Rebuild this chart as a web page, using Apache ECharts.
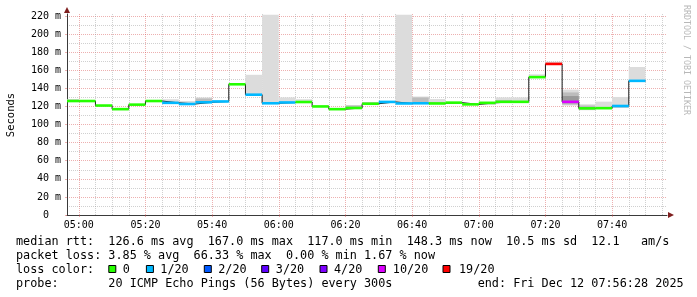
<!DOCTYPE html>
<html><head><meta charset="utf-8">
<script src="https://cdn.jsdelivr.net/npm/echarts@6/dist/echarts.min.js"></script>
<style>html,body{margin:0;padding:0;background:#fff}#c{width:697px;height:297px}</style>
</head><body><div id="c"></div>
<script>
// ---------- data ----------
const rangeStart = '04:56:28';
const rangeEnd = '07:56:28';
const stepEnd = ['05:00','05:05','05:10','05:15','05:20','05:25','05:30','05:35','05:40','05:45','05:50','05:55',
                 '06:00','06:05','06:10','06:15','06:20','06:25','06:30','06:35','06:40','06:45','06:50','06:55',
                 '07:00','07:05','07:10','07:15','07:20','07:25','07:30','07:35','07:40','07:45','07:50'];
const medianMs = [126,126,121,117,122,126,124,122.7,124.6,125.5,144.5,133,
                  123.5,124.4,124.9,120,117,118.3,123,125,123.3,123.5,123.3,124.2,
                  122.3,124,125.1,125.1,152.4,167,125.1,117.9,118.1,120.5,148.3];
const lostPings = [0,0,0,0,0,0,1,1,1,1,0,1,
                   1,1,0,0,0,0,0,1,1,1,0,0,
                   0,0,0,0,0,19,13,0,0,1,1];
const smokeLow  = [125,125.3,120.4,116.5,121.5,125.4,123.5,122.2,124,125,144,132.5,
                   123,124,124.5,119.5,116.5,117.8,122.5,124.5,123,123,123,123.8,
                   121.8,122,124.8,124.8,152,166.8,120.9,115.8,117.6,118.5,147];
const smokeHigh = [128,126.8,121.6,117.6,122.6,126.6,128,126,130,126.5,145.5,155,
                   221.5,130,128,120.6,117.6,121.6,124.8,126,221.5,131,128.2,125,
                   123,124.6,130,130,155.5,169.5,138.6,122.4,125.3,130.5,163.6];
const innerLow  = [125.5,null,null,null,null,null,null,null,124.6,null,null,null,
                   null,null,null,null,null,118.3,123,null,null,123.5,null,null,
                   null,122.3,125,null,null,null,122,116.5,null,118.8,147.2];
const innerHigh = [127.5,null,null,null,null,null,null,null,128.8,null,null,null,
                   null,null,null,null,null,121,124.5,null,null,130,null,null,
                   null,124,127,null,null,null,135.5,121,null,120.5,148.3];
const coreLow   = [null,null,null,null,null,null,null,null,null,null,null,null,
                   null,null,null,null,null,null,null,null,null,null,null,null,
                   null,null,null,null,null,null,123.5,null,null,null,null];
const coreHigh  = [null,null,null,null,null,null,null,null,null,null,null,null,
                   null,null,null,null,null,null,null,null,null,null,null,null,
                   null,null,null,null,null,null,131.5,null,null,null,null];
const xTickLabels = ['05:00','05:20','05:40','06:00','06:20','06:40','07:00','07:20','07:40'];
const yTickValues = [0,20,40,60,80,100,120,140,160,180,200,220];
const lossLevels = [0,1,2,3,4,10,19];
const lossLabels = ['0','1/20','2/20','3/20','4/20','10/20','19/20'];
const lossColors = ['#26ff00','#00b8ff','#0059ff','#5e00ff','#7e00ff','#dd00ff','#ff0000'];
const rttStats = ['126.6 ms avg','167.0 ms max','117.0 ms min','148.3 ms now','10.5 ms sd','12.1','am/s'];
const lossStats = ['3.85 % avg','66.33 % max','0.00 % min','1.67 % now'];
const probeText = '20 ICMP Echo Pings (56 Bytes) every 300s';
const endText = 'end: Fri Dec 12 07:56:28 2025';

// ---------- helpers ----------
function toMin(s){ const p = s.split(':').map(Number); return p[0]*60 + p[1] + (p[2]||0)/60 - 300; }
function fmtMin(v){ const t = Math.round(v) + 300; const h = Math.floor(t/60), m = t%60; return (h<10?'0':'')+h+':'+(m<10?'0':'')+m; }
function lossColor(n){ let c = lossColors[0]; lossLevels.forEach((l,i)=>{ if (n >= l) c = lossColors[i]; }); return c; }
function padCols(items){ let s = ''; items.forEach(([col,txt])=>{ while (s.length < col) s += ' '; s += txt; }); return s; }

const X0 = toMin(rangeStart), X1 = toMin(rangeEnd);
const segs = stepEnd.map(t => { const e = toMin(t); return [Math.max(e - 5, X0), e]; });
const majorX = xTickLabels.map(toMin);
const minorX = []; for (let v = 0; v < X1; v += 5) if (majorX.indexOf(v) < 0) minorX.push(v);
const minorY = []; for (let v = 10; v < 220; v += 20) minorY.push(v);

const MONO = 'DejaVu Sans Mono';
const MGRID = 'rgba(215,80,80,0.45)';
const GRID = 'rgba(150,150,150,0.45)';
const AXIS = '#3a3a3a';

const G = {left: 67, top: 14, width: 600, height: 201};
const yMax = 222.2;

const chart = echarts.init(document.getElementById('c'), null, {renderer: 'canvas'});

function rectBetween(api, x0, x1, lo, hi){
  const a = api.coord([x0, hi]), b = api.coord([x1, lo]);
  return {x: a[0], y: a[1], width: b[0] - a[0], height: b[1] - a[1]};
}

const stepLine = [];
segs.forEach((g,i) => { stepLine.push([g[0], medianMs[i]]); stepLine.push([g[1], medianMs[i]]); });

const option = {
  animation: false,
  backgroundColor: '#ffffff',
  grid: {left: G.left, top: G.top, width: G.width, height: G.height, containLabel: false},
  xAxis: [{
    type: 'value', min: X0, max: X1, position: 'bottom',
    axisLine: {show: true, onZero: false, lineStyle: {color: AXIS, width: 1}},
    axisTick: {show: true, length: 2, customValues: majorX, lineStyle: {color: MGRID}},
    axisLabel: {show: true, customValues: majorX, formatter: v => fmtMin(v), fontFamily: MONO, fontSize: 10, color: '#000', margin: 5},
    splitLine: {show: true, lineStyle: {color: MGRID, width: 1, type: [1,1]}}
  },{
    type: 'value', min: X0, max: X1,
    axisLine: {show: false, onZero: false}, axisLabel: {show: false},
    axisTick: {show: false, customValues: minorX},
    splitLine: {show: true, lineStyle: {color: GRID, width: 1, type: [1,1]}}
  }],
  yAxis: [{
    type: 'value', min: 0, max: yMax, position: 'left',
    axisLine: {show: true, onZero: false, lineStyle: {color: AXIS, width: 1}},
    axisTick: {show: true, length: 2, customValues: yTickValues, lineStyle: {color: MGRID}},
    axisLabel: {show: true, customValues: yTickValues, formatter: v => v === 0 ? '0  ' : v + ' m', fontFamily: MONO, fontSize: 10, color: '#000', margin: 6},
    splitLine: {show: true, lineStyle: {color: MGRID, width: 1, type: [1,1]}}
  },{
    type: 'value', min: 0, max: yMax, position: 'left',
    axisLine: {show: false, onZero: false}, axisLabel: {show: false},
    axisTick: {show: false, customValues: minorY},
    splitLine: {show: true, lineStyle: {color: GRID, width: 1, type: [1,1]}}
  }],
  series: [{
    type: 'custom', name: 'smoke', xAxisIndex: 0, yAxisIndex: 0, z: 2,
    data: segs.map((g,i) => [g[0], g[1], medianMs[i]]),
    encode: {x: [0,1], y: 2},
    renderItem: (params, api) => {
      const i = params.dataIndex, x0 = api.value(0), x1 = api.value(1);
      const ch = [];
      [[smokeLow, smokeHigh, '#dcdcdc'], [innerLow, innerHigh, '#bcbcbc'], [coreLow, coreHigh, '#9a9a9a']].forEach(([L,H,c]) => {
        if (L[i] == null) return;
        ch.push({type: 'rect', shape: rectBetween(api, x0, x1, L[i], H[i]), style: {fill: c}});
      });
      return {type: 'group', children: ch};
    }
  },{
    type: 'line', name: 'median', xAxisIndex: 0, yAxisIndex: 0, z: 3,
    data: stepLine, showSymbol: false, symbol: 'none',
    lineStyle: {color: '#1a1a1a', width: 1}
  },{
    type: 'custom', name: 'loss', xAxisIndex: 0, yAxisIndex: 0, z: 4,
    data: segs.map((g,i) => [g[0], g[1], medianMs[i]]),
    encode: {x: [0,1], y: 2},
    renderItem: (params, api) => {
      const i = params.dataIndex;
      const a = api.coord([api.value(0), api.value(2)]), b = api.coord([api.value(1), api.value(2)]);
      const h = 2.6;
      return {type: 'rect', shape: {x: a[0], y: a[1] - h/2, width: b[0] - a[0], height: h}, style: {fill: lossColor(lostPings[i])}};
    }
  }]
};
chart.setOption(option);

// ---------- text & decorations ----------
const pTopLeft = chart.convertToPixel({gridIndex: 0}, [X0, yMax]);
const pBotRight = chart.convertToPixel({gridIndex: 0}, [X1, 0]);
const ARROW = '#7f1f1f';
const FS = 11.8;
const LX = 16;
const line1 = padCols([[0,'median rtt:'],[13,rttStats[0]],[27,rttStats[1]],[41,rttStats[2]],[55,rttStats[3]],[69,rttStats[4]],[81,rttStats[5]],[88,rttStats[6]]]);
const line2 = padCols([[0,'packet loss:'],[13,lossStats[0]],[25,lossStats[1]],[38,lossStats[2]],[49,lossStats[3]]]);
const line4 = padCols([[0,'probe:'],[13,probeText],[65,endText]]);
const boxX = [108.3,145.9,203.8,261.2,319.5,377.8,442.5];
const labX = [122.8,160.3,218.2,275.8,334,392.8,459];

const graphics = [
  {type: 'polygon', z: 100, shape: {points: [[pBotRight[0]+7, pBotRight[1]], [pBotRight[0]+1, pBotRight[1]-3], [pBotRight[0]+1, pBotRight[1]+3]]}, style: {fill: ARROW}},
  {type: 'polygon', z: 100, shape: {points: [[pTopLeft[0], pTopLeft[1]-7], [pTopLeft[0]-3, pTopLeft[1]-1], [pTopLeft[0]+3, pTopLeft[1]-1]]}, style: {fill: ARROW}},
  {type: 'text', x: 11, y: 115, rotation: Math.PI/2, style: {text: 'Seconds', font: '10.5px ' + MONO, fill: '#000', align: 'center', verticalAlign: 'middle'}},
  {type: 'text', x: 686, y: 60, rotation: -Math.PI/2, style: {text: 'RRDTOOL / TOBI OETIKER', font: '8.3px ' + MONO, fill: '#b8b8b8', align: 'center', verticalAlign: 'middle'}},
  {type: 'text', x: LX, y: 241.5, style: {text: line1, font: FS + 'px ' + MONO, fill: '#000', verticalAlign: 'middle'}},
  {type: 'text', x: LX, y: 255.5, style: {text: line2, font: FS + 'px ' + MONO, fill: '#000', verticalAlign: 'middle'}},
  {type: 'text', x: LX, y: 269.5, style: {text: 'loss color:', font: FS + 'px ' + MONO, fill: '#000', verticalAlign: 'middle'}},
  {type: 'text', x: LX, y: 283.5, style: {text: line4, font: FS + 'px ' + MONO, fill: '#000', verticalAlign: 'middle'}}
];
lossLabels.forEach((lab, i) => {
  graphics.push({type: 'rect', shape: {x: boxX[i] + 0.5, y: 265.5, width: 7, height: 7}, style: {fill: lossColors[i], stroke: '#000', lineWidth: 1}});
  graphics.push({type: 'text', x: labX[i], y: 269.5, style: {text: lab, font: FS + 'px ' + MONO, fill: '#000', verticalAlign: 'middle'}});
});
chart.setOption({graphic: graphics});
</script>
</body></html>
